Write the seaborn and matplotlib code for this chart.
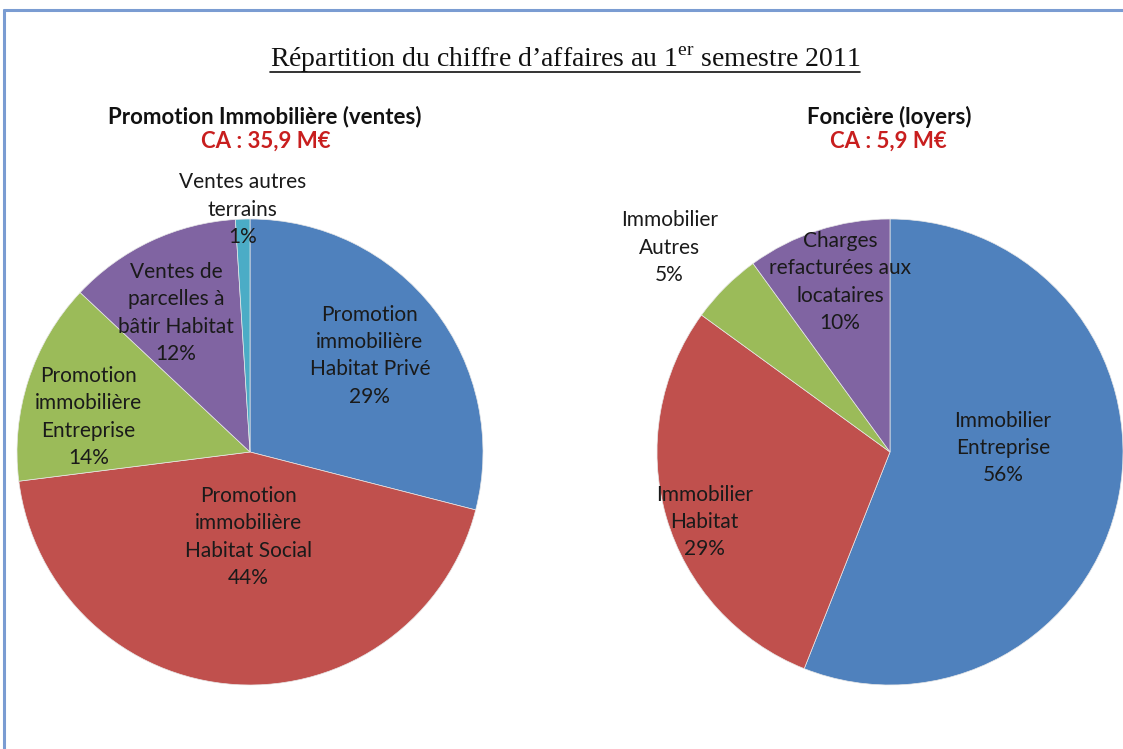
import matplotlib
matplotlib.use("Agg")
import matplotlib.pyplot as plt
from matplotlib.lines import Line2D
import numpy as np
import seaborn as sns

# --- data -------------------------------------------------------------
promo_labels = [
    "Promotion\nimmobilière\nHabitat Privé",
    "Promotion\nimmobilière\nHabitat Social",
    "Promotion\nimmobilière\nEntreprise",
    "Ventes de\nparcelles à\nbâtir Habitat",
    "Ventes autres\nterrains",
]
promo_values = [29, 44, 14, 12, 1]

fonciere_labels = [
    "Immobilier\nEntreprise",
    "Immobilier\nHabitat",
    "Immobilier\nAutres",
    "Charges\nrefacturées aux\nlocataires",
]
fonciere_values = [56, 29, 5, 10]

promo_title = "Promotion Immobilière (ventes)"
promo_ca = "CA : 35,9 M€"
fonciere_title = "Foncière (loyers)"
fonciere_ca = "CA : 5,9 M€"
main_title = "Répartition du chiffre d’affaires au 1$^{\\mathrm{er}}$ semestre 2011"

# --- style ------------------------------------------------------------
sns.set_theme(style="white")
plt.rcParams["font.family"] = ["Lato", "DejaVu Sans"]
plt.rcParams["mathtext.fontset"] = "custom"
plt.rcParams["mathtext.rm"] = "Liberation Serif"

office = sns.color_palette(["#4F81BD", "#C0504D", "#9BBB59", "#8064A2", "#4BACC6"])
promo_colors = [office[0], office[1], office[2], office[3], office[4]]
fonciere_colors = [office[0], office[1], office[2], office[3]]

# label placement: (distance from centre in radii, angular shift in degrees)
promo_label_pos = [(0.66, 1.0), (0.365, 2.3), (0.71, 5.8), (0.676, 2.8), (1.04, 0.0)]
fonciere_label_pos = [(0.485, 12.8), (0.85, 4.5), (1.29, 2.2), (0.76, -1.6)]

W, H = 1123, 749
R = 233
fig = plt.figure(figsize=(W / 100, H / 100), dpi=100)
fig.patch.set_facecolor("white")


def pie_axes(cx, cy):
    return fig.add_axes([(cx - R) / W, (H - cy - R) / H, 2 * R / W, 2 * R / H])


def draw_pie(ax, values, labels, colors, label_pos):
    wedges, _ = ax.pie(
        values,
        colors=colors,
        startangle=90,
        counterclock=False,
        radius=1.0,
        wedgeprops=dict(edgecolor="#e8e8e8", linewidth=0.5),
    )
    ax.set_xlim(-1, 1)
    ax.set_ylim(-1, 1)
    ax.set_aspect("equal")
    ax.axis("off")
    for w, lab, val, (dist, shift) in zip(wedges, labels, values, label_pos):
        mid = np.deg2rad((w.theta1 + w.theta2) / 2 + shift)
        ax.text(
            dist * np.cos(mid),
            dist * np.sin(mid),
            f"{lab}\n{val}%",
            ha="center",
            va="center",
            fontsize=15,
            linespacing=1.46,
            color="#1a1a1a",
            clip_on=False,
        )


ax1 = pie_axes(250, 452)
draw_pie(ax1, promo_values, promo_labels, promo_colors, promo_label_pos)
ax2 = pie_axes(890, 452)
draw_pie(ax2, fonciere_values, fonciere_labels, fonciere_colors, fonciere_label_pos)

# chart headings
head = dict(ha="center", va="center", fontsize=16, fontweight="bold")
fig.text(265 / W, 1 - 117 / H, promo_title, color="#111111", **head)
fig.text(266 / W, 1 - 141 / H, promo_ca, color="#C81E1E", **head)
fig.text(889 / W, 1 - 117 / H, fonciere_title, color="#111111", **head)
fig.text(888 / W, 1 - 141 / H, fonciere_ca, color="#C81E1E", **head)

# underlined page title
t = fig.text(565 / W, 1 - 67 / H, main_title, ha="center", va="baseline",
             fontsize=20, family="Liberation Serif", color="#111111")
renderer = fig.canvas.get_renderer()
bb = t.get_window_extent(renderer)
uy = 1 - 72 / H
fig.add_artist(Line2D([bb.x0 / W, bb.x1 / W], [uy, uy], transform=fig.transFigure,
                      color="#111111", linewidth=1.2))

# frame lines along top and left
frame = "#7A9CD2"
fig.add_artist(Line2D([4 / W, 1.0], [1 - 10 / H, 1 - 10 / H], transform=fig.transFigure,
                      color=frame, linewidth=2.2))
fig.add_artist(Line2D([4 / W, 4 / W], [0.0, 1 - 10 / H], transform=fig.transFigure,
                      color=frame, linewidth=2.2))

fig.savefig("out.png", dpi=100, facecolor="white")
